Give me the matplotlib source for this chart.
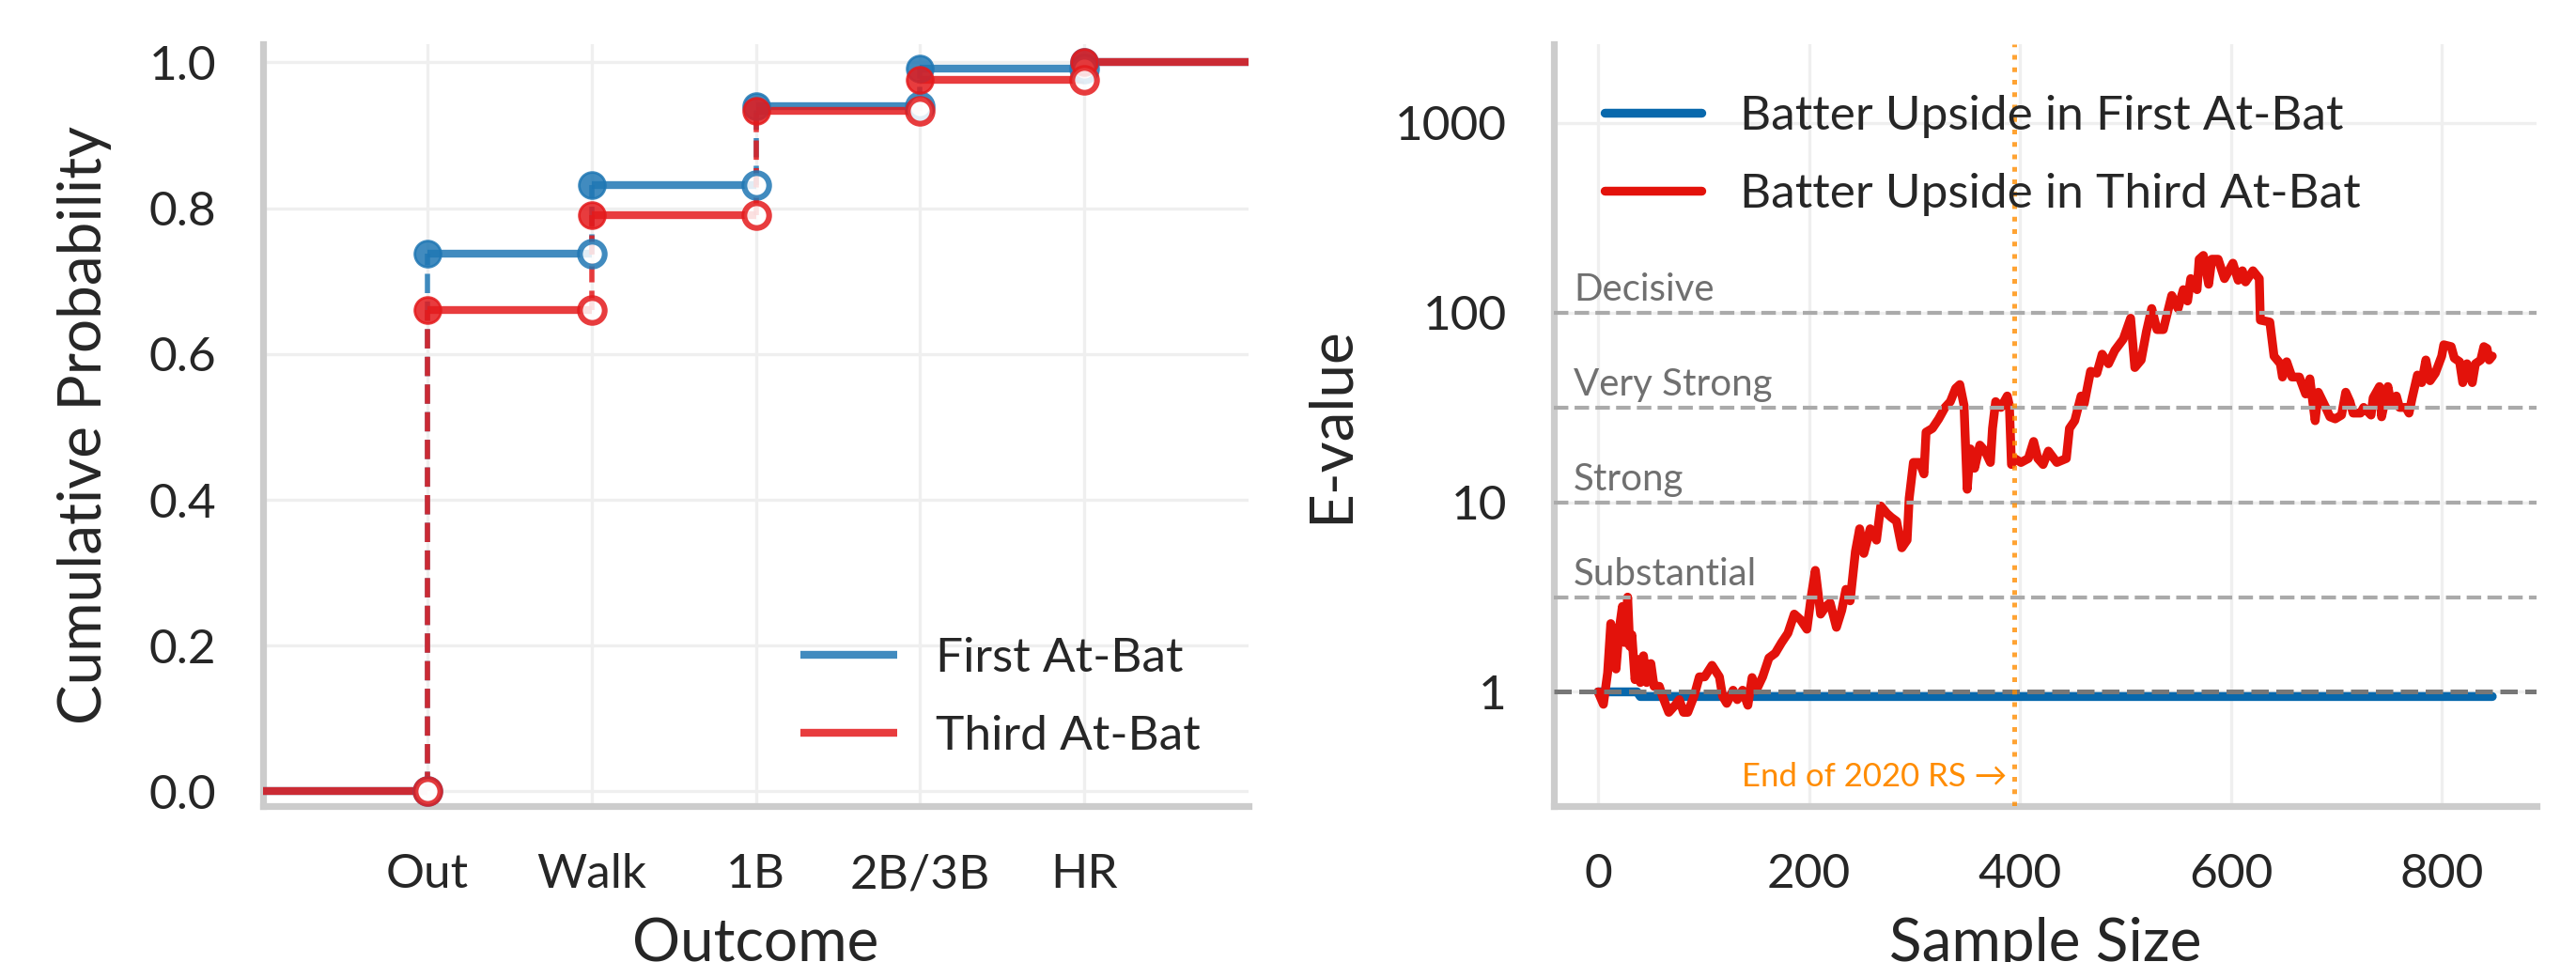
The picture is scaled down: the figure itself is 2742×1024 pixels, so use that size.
import numpy as np
import matplotlib
matplotlib.use("Agg")
import matplotlib.pyplot as plt
import matplotlib.transforms as mtransforms
from matplotlib.ticker import FixedLocator, FixedFormatter, NullLocator

plt.rcParams["font.family"] = ["Lato", "DejaVu Sans"]

# ---- outcome distribution (cumulative) ----
outcomes = ["Out", "Walk", "1B", "2B/3B", "HR"]
cdf_first = [0.738, 0.832, 0.940, 0.991, 1.000]
cdf_third = [0.660, 0.790, 0.933, 0.976, 1.000]
cdf_labels = ["First At-Bat", "Third At-Bat"]

# ---- sequential e-values ----
sample_first = [0, 37, 40, 848]
evalue_first = [1.0, 1.0, 0.945, 0.945]

sample_third = [
    0, 5, 9, 12, 17, 20, 23, 25, 28, 30, 32, 35, 38, 40, 43, 46, 50, 53, 58, 61,
    67, 73, 77, 81, 85, 91, 96, 101, 108, 115, 118, 122, 128, 132, 137, 142, 146, 150, 156, 162,
    168, 174, 180, 186, 192, 198, 202, 206, 211, 216, 220, 226, 231, 235, 239, 244, 248, 252, 258, 264,
    268, 274, 278, 283, 288, 293, 295, 299, 305, 309, 311, 317, 323, 329, 334, 339, 343, 347, 350, 353,
    357, 362, 367, 372, 374, 377, 382, 388, 390, 392, 395, 401, 408, 413, 417, 422, 427, 435, 444, 447,
    452, 458, 461, 467, 473, 478, 484, 490, 498, 505, 509, 515, 520, 525, 530, 536, 544, 550, 555, 559,
    562, 568, 570, 574, 579, 582, 588, 594, 602, 607, 611, 614, 621, 627, 628, 637, 641, 647, 649, 653,
    658, 665, 671, 675, 680, 683, 690, 694, 699, 705, 709, 713, 716, 723, 726, 733, 735, 741, 743, 749,
    752, 757, 760, 766, 769, 772, 777, 781, 785, 789, 794, 800, 802, 809, 812, 817, 820, 824, 829, 832,
    837, 840, 843, 845, 848,
]
evalue_third = [
    1.00, 0.86, 1.26, 2.29, 1.32, 2.14, 2.82, 1.82, 3.16, 1.74, 2.00, 1.16, 1.48, 1.12, 1.55, 1.12, 1.41, 1.07, 1.07, 0.95,
    0.78, 0.85, 0.91, 0.78, 0.78, 0.95, 1.20, 1.20, 1.38, 1.20, 0.95, 0.87, 1.02, 0.91, 1.02, 0.85, 1.19, 1.02, 1.20, 1.51,
    1.60, 1.82, 2.04, 2.57, 2.40, 2.14, 3.16, 4.37, 2.57, 2.82, 2.95, 2.19, 2.69, 3.47, 3.02, 5.50, 7.24, 5.37, 7.24, 6.31,
    9.55, 8.71, 8.32, 7.94, 5.75, 6.31, 10.5, 16.2, 16.2, 14.1, 23.4, 24.5, 27.5, 31.6, 33.9, 39.8, 41.7, 32.4, 11.7, 19.1,
    15.1, 20.0, 18.6, 16.2, 24.5, 33.9, 31.6, 36.3, 32.4, 15.8, 17.0, 16.2, 17.0, 20.9, 17.0, 15.8, 18.6, 16.2, 17.0, 24.5,
    26.9, 36.3, 33.1, 49.0, 47.9, 60.3, 53.7, 63.1, 72.4, 93.3, 51.3, 56.2, 79.4, 105, 81.3, 81.3, 123, 105, 132, 115,
    151, 132, 191, 200, 141, 191, 191, 151, 182, 148, 166, 145, 166, 151, 91.2, 89.1, 58.9, 53.7, 45.7, 55.0,
    45.7, 45.7, 37.2, 44.7, 26.9, 38.0, 31.6, 28.2, 27.5, 28.8, 38.0, 33.9, 29.5, 29.5, 31.6, 28.8, 35.5, 40.7, 28.2, 40.7,
    33.1, 36.3, 31.6, 31.6, 29.5, 35.5, 46.8, 42.7, 56.2, 43.7, 47.9, 58.9, 67.6, 66.1, 57.5, 55.0, 42.7, 53.7, 42.7, 53.7,
    56.2, 66.1, 64.6, 56.2, 58.9,
]
evalue_labels = ["Batter Upside in First At-Bat", "Batter Upside in Third At-Bat"]

evidence_levels = [3.16, 10, 31.6, 100]
evidence_names = ["Substantial", "Strong", "Very Strong", "Decisive"]
season_end = 395

TEXT = "#262626"
SPINE = "#cccccc"
GRID = "#efefef"

fig = plt.figure(figsize=(13.71, 5.12), dpi=200)
ax1 = fig.add_axes([0.1021, 0.1621, 0.3826, 0.7920])
ax2 = fig.add_axes([0.6032, 0.1621, 0.3815, 0.7920])


def style_axes(ax):
    for side in ("top", "right"):
        ax.spines[side].set_visible(False)
    for side in ("left", "bottom"):
        ax.spines[side].set_color(SPINE)
        ax.spines[side].set_linewidth(2.6)
    ax.grid(True, color=GRID, lw=1.2)
    ax.set_axisbelow(True)
    ax.tick_params(length=0, pad=18, labelsize=18.5, colors=TEXT)


def draw_cdf(ax, vals, color, label):
    vals = np.asarray(vals)
    x = np.arange(len(vals))
    prev = np.concatenate([[0.0], vals[:-1]])
    a = 0.85
    ax.hlines(vals, x, x + 1, colors=color, lw=3, alpha=a, label=label, zorder=3)
    ax.hlines([0.0], [-1], [0], colors=color, lw=3, alpha=a, zorder=3)
    ax.vlines(x, prev, vals, colors=color, lw=2, linestyles="--", alpha=a, zorder=3)
    ax.plot(x, vals, "o", color=color, ms=10, alpha=a, zorder=4)
    ax.plot(x, prev, "o", mfc="white", mec=color, mew=2.2, ms=9.5, alpha=a, zorder=4)


# left: cumulative outcome distribution
style_axes(ax1)
draw_cdf(ax1, cdf_first, "#1f77b4", cdf_labels[0])
draw_cdf(ax1, cdf_third, "#e41a1c", cdf_labels[1])
ax1.set_xlim(-1, 5)
ax1.set_ylim(-0.02, 1.025)
ax1.set_xticks(range(len(outcomes)))
ax1.set_xticklabels(outcomes)
ax1.set_yticks([0, 0.2, 0.4, 0.6, 0.8, 1.0])
ax1.set_yticklabels(["0.0", "0.2", "0.4", "0.6", "0.8", "1.0"])
ax1.set_xlabel("Outcome", fontsize=23, color=TEXT, labelpad=8)
ax1.set_ylabel("Cumulative Probability", fontsize=23, color=TEXT, labelpad=14)
ax1.legend(loc="lower right", frameon=False, fontsize=18.5, labelcolor=TEXT,
           labelspacing=0.72, borderaxespad=0.6)

# right: e-value paths on a log scale
style_axes(ax2)
ax2.set_yscale("log")
ax2.plot(sample_first, evalue_first, color="#0868ac", lw=3.4,
         solid_capstyle="round", label=evalue_labels[0], zorder=2)
ax2.plot(sample_third, evalue_third, color="#e3120b", lw=3.4,
         solid_capstyle="round", solid_joinstyle="round", label=evalue_labels[1], zorder=2)
blend = mtransforms.blended_transform_factory(ax2.transAxes, ax2.transData)
for lvl, name in zip(evidence_levels, evidence_names):
    ax2.axhline(lvl, color="#aaaaaa", ls="--", lw=1.5, zorder=3)
    ax2.text(0.02, lvl * 1.15, name, transform=blend, fontsize=14.5,
             color="#707070", ha="left", va="baseline")
ax2.axhline(1, color="#777777", ls="--", lw=1.8, zorder=3)
ax2.axvline(season_end, color="darkorange", ls=":", lw=1.8, alpha=0.8, zorder=3)
ax2.text(season_end - 7, 0.355, "End of 2020 RS \u2192", fontsize=12.5,
         color="darkorange", ha="right", va="center")
ax2.set_xlim(-42, 890)
ax2.set_ylim(0.25, 2600)
ax2.set_xticks([0, 200, 400, 600, 800])
ax2.yaxis.set_major_locator(FixedLocator([1, 10, 100, 1000]))
ax2.yaxis.set_major_formatter(FixedFormatter(["1", "10", "100", "1000"]))
ax2.yaxis.set_minor_locator(NullLocator())
ax2.set_xlabel("Sample Size", fontsize=23, color=TEXT, labelpad=8)
ax2.set_ylabel("E-value", fontsize=23, color=TEXT, labelpad=14)
ax2.legend(loc="upper left", frameon=False, fontsize=18.5, labelcolor=TEXT,
           labelspacing=0.72, borderaxespad=0.65)

fig.savefig("out.png", dpi=200)
